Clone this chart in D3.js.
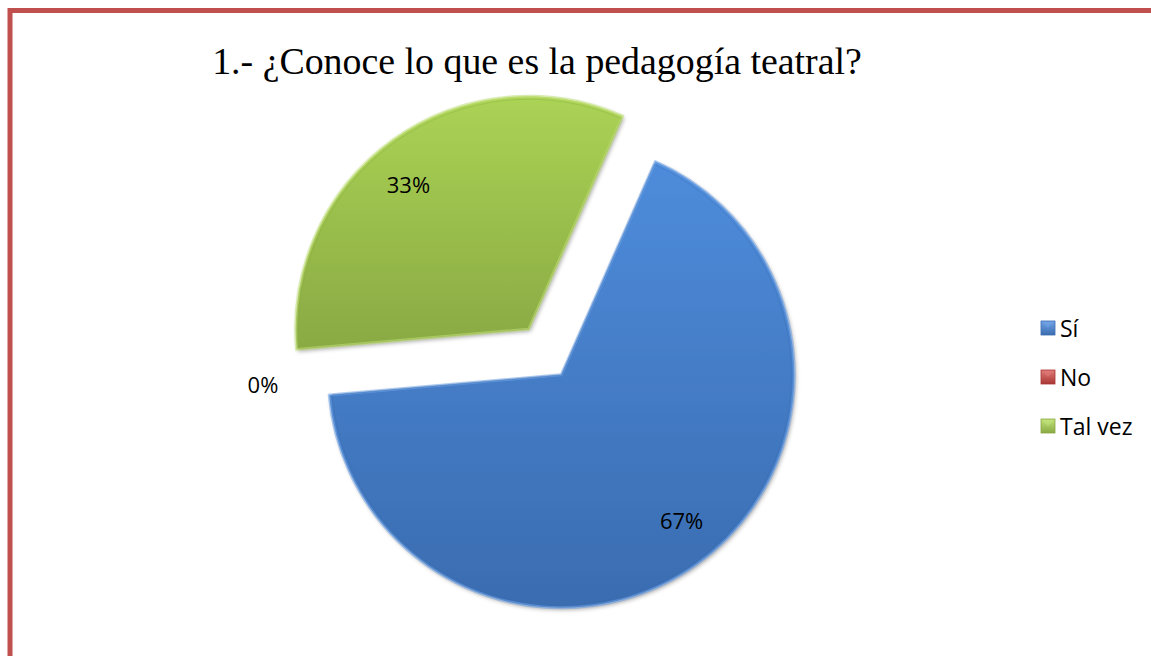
<!DOCTYPE html>
<html><head><meta charset="utf-8">
<script src="https://cdn.jsdelivr.net/npm/d3@7"></script>
<style>html,body{margin:0;padding:0;background:#fff;overflow:hidden}</style>
</head><body>
<svg id="chart" width="1151" height="656"></svg>
<script>
const title = "1.- ¿Conoce lo que es la pedagogía teatral?";
const categories = ["Sí", "No", "Tal vez"];
const values = [67, 0, 33];
const labels = ["67%", "0%", "33%"];

const colors = {
  "Sí": ["#4e8cdb", "#3a6cb0", "#6fa3e6"],
  "No": ["#d0504c", "#a83835", "#e07a77"],
  "Tal vez": ["#abd355", "#89a943", "#c2e27a"]
};
const W = 1151, H = 656;
const cx = 545, cy = 352, R = 233, explode = 28;
const startDeg = 23.8;
const labelShift = -4 * Math.PI / 180;

const svg = d3.select("#chart");
const defs = svg.append("defs");

categories.forEach((c, i) => {
  const g = defs.append("linearGradient").attr("id", "grad" + i)
    .attr("x1", 0).attr("y1", 0).attr("x2", 0).attr("y2", 1);
  g.append("stop").attr("offset", "0%").attr("stop-color", colors[c][0]);
  g.append("stop").attr("offset", "100%").attr("stop-color", colors[c][1]);
  const lg = defs.append("linearGradient").attr("id", "lgrad" + i)
    .attr("x1", 0).attr("y1", 0).attr("x2", 0).attr("y2", 1);
  lg.append("stop").attr("offset", "0%").attr("stop-color", colors[c][2]);
  lg.append("stop").attr("offset", "100%").attr("stop-color", colors[c][1]);
});
const f = defs.append("filter").attr("id", "shadow")
  .attr("x", "-10%").attr("y", "-10%").attr("width", "120%").attr("height", "120%");
f.append("feDropShadow").attr("dx", 1.5).attr("dy", 2).attr("stdDeviation", 2)
  .attr("flood-color", "#000").attr("flood-opacity", 0.35);

// frame
svg.append("rect").attr("x", 10).attr("y", 10.5).attr("width", W + 20).attr("height", H + 20)
  .attr("fill", "none").attr("stroke", "#c0504d").attr("stroke-width", 5);

// title
const t = svg.append("text").attr("x", 537).attr("y", 74)
  .attr("text-anchor", "middle")
  .attr("font-family", "'Liberation Serif', 'DejaVu Serif', serif")
  .attr("font-size", 34).attr("fill", "#000").text(title);
const tw = t.node().getComputedTextLength();
t.attr("font-size", 34 * 650 / tw);

const toRad = d => d * Math.PI / 180;
const pie = d3.pie().sort(null).value(d => d)
  .startAngle(toRad(startDeg)).endAngle(toRad(startDeg) + 2 * Math.PI);
const arcs = pie(values);
const arc = d3.arc().innerRadius(0).outerRadius(R);
const arcInner = d3.arc().innerRadius(0).outerRadius(R - 3);

const slices = svg.append("g");
arcs.forEach((a, i) => {
  const mid = (a.startAngle + a.endAngle) / 2;
  const ox = cx + explode * Math.sin(mid), oy = cy - explode * Math.cos(mid);
  const g = slices.append("g").attr("transform", `translate(${ox},${oy})`);
  if (a.endAngle - a.startAngle > 0) {
    g.append("path").attr("d", arc(a)).attr("fill", `url(#grad${i})`)
      .attr("filter", "url(#shadow)");
    g.append("path").attr("d", arc(a)).attr("fill", "none")
      .attr("stroke", colors[categories[i]][2]).attr("stroke-width", 3).attr("stroke-opacity", 0.55)
      .attr("stroke-linejoin", "round");
    g.append("path").attr("d", arcInner(a)).attr("fill", "none")
      .attr("stroke", colors[categories[i]][1]).attr("stroke-width", 1).attr("stroke-opacity", 0.35);
  }
  const zero = values[i] === 0;
  const lr = zero ? R * 1.095 : R * 0.81;
  const la = zero ? mid : mid + labelShift;
  const lx = lr * Math.sin(la), ly = -lr * Math.cos(la);
  g.append("text").attr("x", lx).attr("y", ly + (zero ? 7 : 0))
    .attr("text-anchor", "middle").attr("dominant-baseline", "central")
    .attr("font-family", "'Open Sans', 'Liberation Sans', sans-serif")
    .attr("font-size", 22).attr("fill", "#000").text(labels[i]);
});

// legend
const legend = svg.append("g");
const ly0 = 328, lstep = 49;
categories.forEach((c, i) => {
  const y = ly0 + i * lstep;
  legend.append("rect").attr("x", 1041).attr("y", y - 7).attr("width", 14).attr("height", 14)
    .attr("fill", `url(#lgrad${i})`).attr("stroke", colors[c][1]).attr("stroke-width", 0.8);
  legend.append("path")
    .attr("d", `M${1042},${y - 6}L${1048},${y}L${1054},${y - 6}Z`)
    .attr("fill", colors[c][2]).attr("opacity", 0.6);
  legend.append("text").attr("x", 1060).attr("y", y).attr("dominant-baseline", "central")
    .attr("font-family", "'Open Sans', 'Liberation Sans', sans-serif")
    .attr("font-size", 23).attr("fill", "#000").text(c);
});
</script>
</body></html>
